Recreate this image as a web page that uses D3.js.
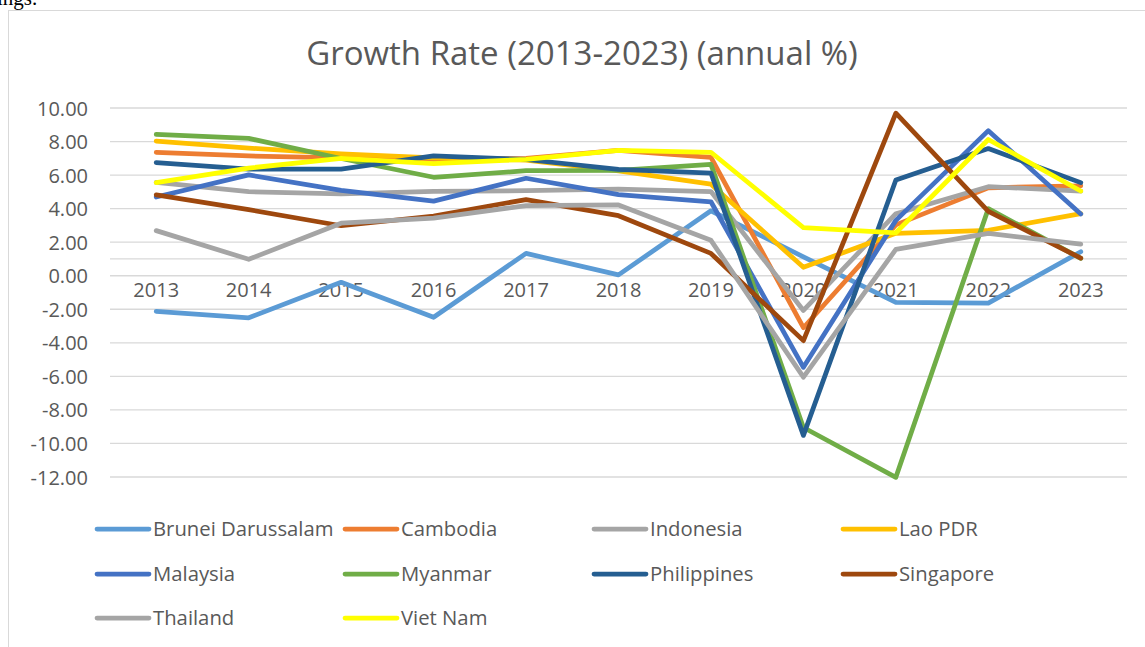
<!DOCTYPE html>
<html>
<head>
<meta charset="utf-8">
<script src="https://cdn.jsdelivr.net/npm/d3@7/dist/d3.min.js"></script>
<style>
  html, body { margin: 0; padding: 0; background: #fff; overflow: hidden; }
  svg { display: block; }
</style>
</head>
<body>
<svg id="chart" width="1145" height="647"></svg>
<script>
// ---- data ----
const years = ["2013","2014","2015","2016","2017","2018","2019","2020","2021","2022","2023"];
const yTicks = [10, 8, 6, 4, 2, 0, -2, -4, -6, -8, -10, -12];
const extraGrid = [1];
const countries = ["Brunei Darussalam","Cambodia","Indonesia","Lao PDR","Malaysia","Myanmar","Philippines","Singapore","Thailand","Viet Nam"];
const colors = ["#5B9BD5","#ED7D31","#A5A5A5","#FFC000","#4472C4","#70AD47","#255E91","#9E480E","#A5A5A5","#FFFF00"];

const brunei      = [-2.13, -2.51, -0.39, -2.48, 1.33, 0.05, 3.87, 1.13, -1.59, -1.63, 1.43];
const cambodia    = [7.36, 7.14, 7.03, 6.93, 7.00, 7.47, 7.05, -3.10, 3.03, 5.24, 5.36];
const indonesia   = [5.56, 5.01, 4.88, 5.03, 5.07, 5.17, 5.02, -2.07, 3.70, 5.31, 5.05];
const lao         = [8.03, 7.61, 7.27, 7.02, 6.89, 6.25, 5.46, 0.50, 2.53, 2.71, 3.70];
const malaysia    = [4.69, 6.01, 5.09, 4.45, 5.81, 4.84, 4.41, -5.46, 3.30, 8.65, 3.68];
const myanmar     = [8.43, 8.19, 6.99, 5.87, 6.26, 6.28, 6.64, -9.05, -12.02, 4.00, 1.04];
const philippines = [6.75, 6.35, 6.35, 7.15, 6.93, 6.34, 6.12, -9.52, 5.71, 7.58, 5.55];
const singapore   = [4.82, 3.94, 2.98, 3.56, 4.54, 3.58, 1.33, -3.87, 9.69, 3.84, 1.05];
const thailand    = [2.69, 0.98, 3.13, 3.44, 4.18, 4.22, 2.11, -6.05, 1.57, 2.53, 1.88];
const vietnam     = [5.55, 6.42, 6.99, 6.69, 6.94, 7.47, 7.36, 2.87, 2.56, 8.12, 5.05];

const seriesValues = [brunei, cambodia, indonesia, lao, malaysia, myanmar, philippines, singapore, thailand, vietnam];

// ---- drawing ----
const svg = d3.select("#chart");
const FONT = "'Open Sans', 'Noto Sans', sans-serif";
const TXT = "#595959";

// stray document text above chart (cut off at the top edge, as in the source image)
svg.append("text")
  .attr("x", -3).attr("y", 5)
  .attr("font-family", "'Liberation Serif', 'DejaVu Serif', serif")
  .attr("font-size", 21).attr("fill", "#000")
  .text("ings.");

// chart frame
svg.append("rect")
  .attr("x", 8.5).attr("y", 10.5).attr("width", 1148).attr("height", 660)
  .attr("fill", "#fff").attr("stroke", "#d9d9d9").attr("stroke-width", 1);

// title
svg.append("text")
  .attr("x", 582).attr("y", 65)
  .attr("text-anchor", "middle")
  .attr("font-family", FONT).attr("font-size", 33).attr("fill", TXT)
  .text("Growth Rate (2013-2023) (annual %)");

const plotLeft = 110, plotRight = 1127;
const x = d3.scaleBand().domain(years).range([plotLeft, plotRight]);
const cx = d => x(d) + x.bandwidth() / 2;
const y = d3.scaleLinear().domain([-12, 10]).range([477, 108]);

// gridlines
const grid = svg.append("g");
grid.selectAll("line.g").data(yTicks.concat(extraGrid)).join("line")
  .attr("x1", plotLeft).attr("x2", plotRight)
  .attr("y1", d => y(d)).attr("y2", d => y(d))
  .attr("stroke", "#d9d9d9").attr("stroke-width", 1.3);

// y axis labels
const yAxis = d3.axisLeft(y).tickValues(yTicks).tickFormat(d => d.toFixed(2)).tickSize(0).tickPadding(0);
const yg = svg.append("g").attr("transform", "translate(88,0)").call(yAxis);
yg.select(".domain").remove();
yg.selectAll("text").attr("font-family", FONT).attr("font-size", 20).attr("fill", TXT).attr("dy", "0.35em");

// x axis labels
const xAxis = d3.axisBottom(x).tickSize(0).tickPadding(0);
const xg = svg.append("g").attr("transform", `translate(0,${y(0) + 3})`).call(xAxis);
xg.select(".domain").remove();
xg.selectAll("text").attr("font-family", FONT).attr("font-size", 20).attr("fill", TXT).attr("dy", "0.9em");

// lines
const line = d3.line().x((d, i) => cx(years[i])).y(d => y(d));
const linesG = svg.append("g");
seriesValues.forEach((vals, k) => {
  linesG.append("path")
    .datum(vals)
    .attr("d", line)
    .attr("fill", "none")
    .attr("stroke", colors[k])
    .attr("stroke-width", 4.75)
    .attr("stroke-linejoin", "round")
    .attr("stroke-linecap", "round");
});

// legend
const legCols = [95, 343, 592, 841];
const legRows = [529, 574, 618];
const leg = svg.append("g");
countries.forEach((name, i) => {
  const lx = legCols[i % 4], ly = legRows[Math.floor(i / 4)];
  leg.append("line")
    .attr("x1", lx + 2).attr("x2", lx + 54)
    .attr("y1", ly).attr("y2", ly)
    .attr("stroke", colors[i]).attr("stroke-width", 4.75).attr("stroke-linecap", "round");
  leg.append("text")
    .attr("x", lx + 58).attr("y", ly).attr("dy", "0.35em")
    .attr("font-family", FONT).attr("font-size", 20.3).attr("fill", TXT)
    .text(name);
});
</script>
</body>
</html>
